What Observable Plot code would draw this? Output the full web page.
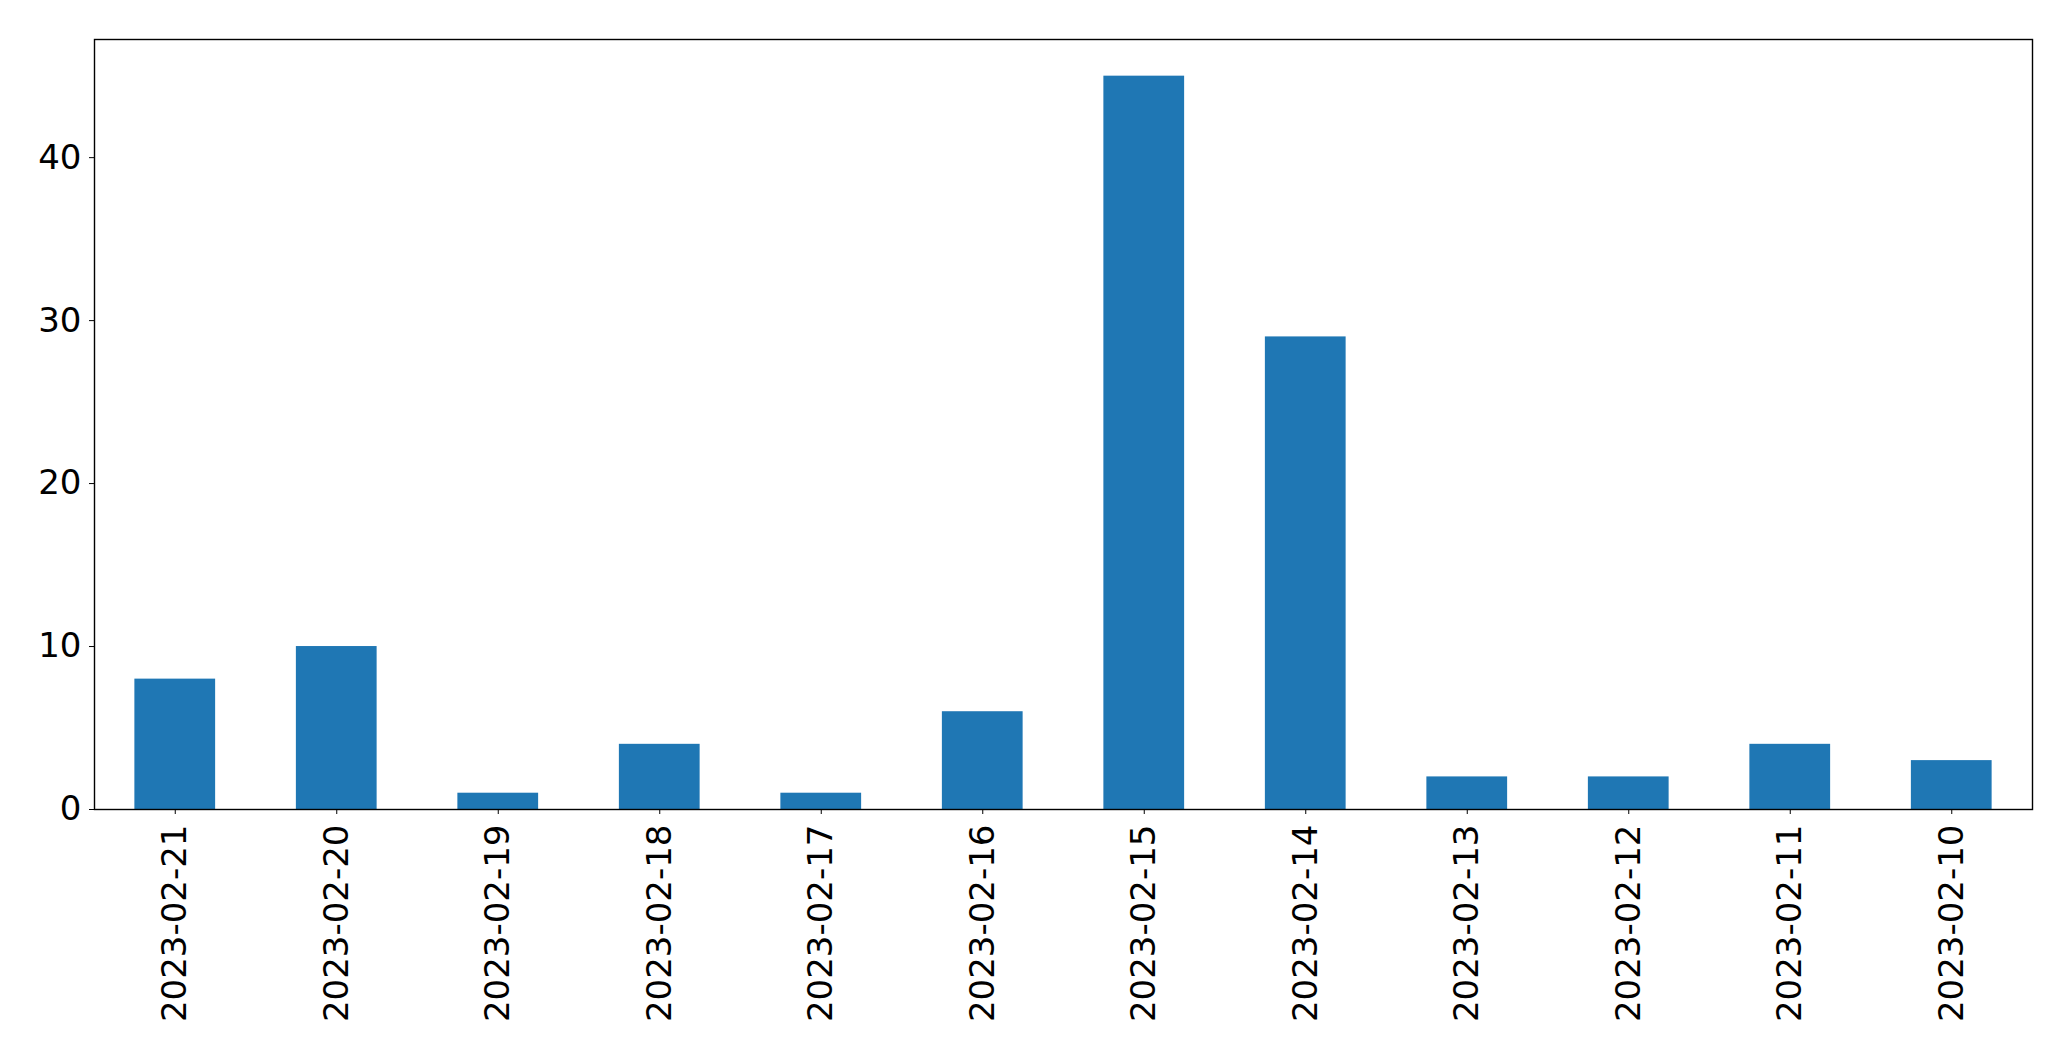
<!DOCTYPE html>
<html>
<head>
<meta charset="utf-8">
<script src="https://cdn.jsdelivr.net/npm/d3@7"></script>
<script src="https://cdn.jsdelivr.net/npm/@observablehq/plot@0.6"></script>
<style>
  html, body { margin: 0; padding: 0; background: #fff; }
  #chart svg { display: block; }
</style>
</head>
<body>
<div id="chart"></div>
<script>
const dates = ["2023-02-21","2023-02-20","2023-02-19","2023-02-18","2023-02-17","2023-02-16","2023-02-15","2023-02-14","2023-02-13","2023-02-12","2023-02-11","2023-02-10"];
const counts = [8, 10, 1, 4, 1, 6, 45, 29, 2, 2, 4, 3];
const yTicks = [0, 10, 20, 30, 40];

const data = dates.map((d, i) => ({date: d, count: counts[i]}));

const chart = Plot.plot({
  width: 2071,
  height: 1061,
  marginLeft: 94,
  marginRight: 39,
  marginTop: 39,
  marginBottom: 252,
  style: {fontFamily: "DejaVu Sans", fontSize: "34px", color: "#000", background: "#fff"},
  x: {domain: dates, paddingInner: 0.5, paddingOuter: 0.25, round: false, label: null},
  y: {domain: [0, 47.25], label: null},
  marks: [
    Plot.barY(data, {x: "date", y: "count", fill: "#1f77b4"}),
    Plot.axisY({ticks: yTicks, tickSize: 5, tickPadding: 8, fontSize: 34, label: null, stroke: "#000"}),
    Plot.axisX({tickRotate: -90, tickSize: 5, tickPadding: 10, fontSize: 34, label: null, stroke: "#000"}),
    Plot.frame({stroke: "#000", strokeWidth: 1.4})
  ]
});
document.getElementById("chart").appendChild(chart);
</script>
</body>
</html>
